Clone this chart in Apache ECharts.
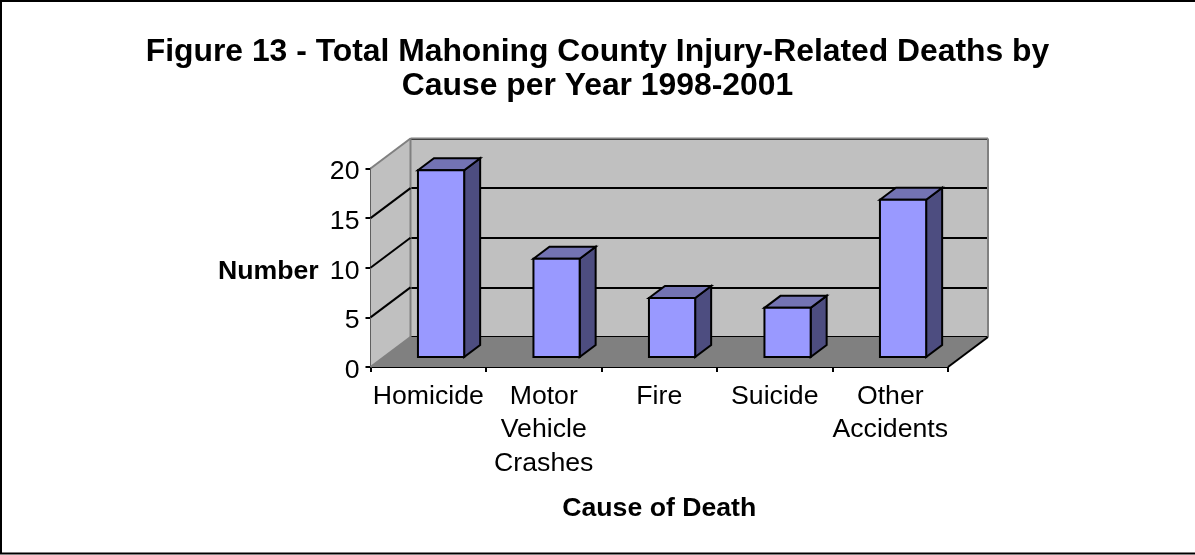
<!DOCTYPE html>
<html><head><meta charset="utf-8">
<style>html,body{margin:0;padding:0;background:#fff}#c{width:1195px;height:555px}</style>
<script src="https://cdn.jsdelivr.net/npm/echarts@6/dist/echarts.min.js"></script>
</head><body><div id="c"></div>
<script>
var categories = ['Homicide', 'Motor\nVehicle\nCrashes', 'Fire', 'Suicide', 'Other\nAccidents'];
var deaths = [19, 10, 6, 5, 16];
var gridTicks = [5, 10, 15, 20];
var titleLines = 'Figure 13 - Total Mahoning County Injury-Related Deaths by\nCause per Year 1998-2001';
var FONT = '"Liberation Sans", Arial, sans-serif';
var DX = 40, DY = -30, BAR_DX = 16, BAR_DY = -12;

function poly(points, fill, stroke, lw, z) {
  return { type: 'polygon', z2: z || 0, shape: { points: points },
    style: { fill: fill, stroke: stroke || 'none', lineWidth: lw || 0 } };
}
function line(a, b, stroke, lw, z) {
  return { type: 'line', z2: z || 1, shape: { x1: a[0], y1: a[1], x2: b[0], y2: b[1] },
    style: { stroke: stroke, lineWidth: lw } };
}
function renderRoom(params, api) {
  var l = api.coord([0, 0]), r = api.coord([categories.length - 1, 0]);
  var band = api.size([1, 0])[0];
  var x0 = l[0] - band / 2, x1 = r[0] + band / 2, y0 = l[1];
  var top = api.coord([0, 20])[1];
  var kids = [
    poly([[x0, y0], [x1, y0], [x1 + DX, y0 + DY], [x0 + DX, y0 + DY]], '#808080'),
    poly([[x0, y0], [x0, top], [x0 + DX, top + DY], [x0 + DX, y0 + DY]], '#c0c0c0'),
    line([x0, y0], [x0 + DX, y0 + DY], '#808080', 2, 2),
    line([x0, top], [x0 + DX, top + DY], '#808080', 2, 2),
    line([x0 + DX, top + DY], [x0 + DX, y0 + DY], '#808080', 2, 2),
    line([x0 + DX, top + DY], [x1 + DX, top + DY], '#808080', 2, 2),
    line([x1 + DX, top + DY], [x1 + DX, y0 + DY], '#808080', 2, 2),
    line([x1, y0], [x1 + DX, y0 + DY], '#000', 2, 2)
  ];
  gridTicks.forEach(function (t) {
    if (t === 20) return;
    var y = api.coord([0, t])[1];
    kids.push(line([x0, y], [x0 + DX, y + DY], '#000', 2, 2));
  });
  return { type: 'group', children: kids };
}
function renderBar(params, api) {
  var p = api.coord([api.value(0), api.value(1)]);
  var b = api.coord([api.value(0), 0]);
  var w = api.size([1, 0])[0] * 0.4;
  var xl = p[0] - w / 2, xr = p[0] + w / 2, yt = p[1], yb = b[1];
  function f(pts, c) {
    return { type: 'polygon', shape: { points: pts }, style: { fill: c, stroke: '#000', lineWidth: 2 } };
  }
  return { type: 'group', children: [
    f([[xr, yt], [xr + BAR_DX, yt + BAR_DY], [xr + BAR_DX, yb + BAR_DY], [xr, yb]], '#4d4d80'),
    f([[xl, yt], [xl + BAR_DX, yt + BAR_DY], [xr + BAR_DX, yt + BAR_DY], [xr, yt]], '#7373b3'),
    f([[xl, yt], [xr, yt], [xr, yb], [xl, yb]], '#9999ff')
  ] };
}
var chart = echarts.init(document.getElementById('c'), null, { renderer: 'canvas' });
chart.setOption({
  animation: false,
  backgroundColor: '#fff',
  textStyle: { fontFamily: FONT },
  title: { text: titleLines, left: 592.5, top: 30, textAlign: 'center',
    textStyle: { fontFamily: FONT, fontSize: 31.85, fontWeight: 'bold', color: '#000', lineHeight: 34 } },
  graphic: [{ type: 'polyline', silent: true, z: -1,
    shape: { points: [[1195, 1], [1, 1], [1, 553.5], [1195, 553.5]] },
    style: { fill: 'none', stroke: '#000', lineWidth: 2 } },
    { type: 'text', left: 218, top: 258, style: { text: 'Number', font: 'bold 26.67px ' + FONT, fill: '#000' } }
  ],
  grid: [
    { left: 370.5, width: 577.5, top: 168.5, height: 198.5, show: false },
    { left: 410.5, width: 577.5, top: 138.5, height: 198.5, show: true, backgroundColor: '#c0c0c0', borderWidth: 0 },
    { left: 383.3, width: 577.5, top: 160.4, height: 196.6, show: false }
  ],
  xAxis: [
    { type: 'category', gridIndex: 0, data: categories, name: 'Cause of Death', nameLocation: 'middle', nameGap: 128,
      nameTextStyle: { fontFamily: FONT, fontSize: 26.67, fontWeight: 'bold', color: '#000' },
      axisLine: { lineStyle: { color: '#000', width: 2 } },
      axisTick: { show: true, alignWithLabel: false, length: 5, lineStyle: { color: '#000', width: 2 } },
      axisLabel: { color: '#000', fontFamily: FONT, fontSize: 26.67, lineHeight: 33.4, margin: 13, interval: 0 } },
    { type: 'category', gridIndex: 1, data: categories, show: false },
    { type: 'category', gridIndex: 2, data: categories, show: false }
  ],
  yAxis: [
    { type: 'value', gridIndex: 0, min: 0, max: 20, interval: 5,
      axisLine: { show: true, lineStyle: { color: '#000', width: 2 } },
      axisTick: { show: true, length: 5, lineStyle: { color: '#000', width: 2 } },
      axisLabel: { color: '#000', fontFamily: FONT, fontSize: 26.67, margin: 11,
        formatter: '{n|{value}}',
        rich: { n: { fontFamily: FONT, fontSize: 26.67, color: '#000', padding: [7, 0, 0, 0] } } },
      splitLine: { show: false } },
    { type: 'value', gridIndex: 1, min: 0, max: 20, interval: 5,
      axisLine: { show: false }, axisTick: { show: false }, axisLabel: { show: false },
      splitLine: { show: true, lineStyle: { color: '#000', width: 2 } } },
    { type: 'value', gridIndex: 2, min: 0, max: 20, show: false }
  ],
  series: [
    { type: 'custom', xAxisIndex: 0, yAxisIndex: 0, renderItem: renderRoom, data: [[0, 0]], clip: false, z: 1, silent: true,
      encode: { x: 0, y: 1 } },
    { type: 'custom', xAxisIndex: 2, yAxisIndex: 2, renderItem: renderBar, clip: false, z: 5, silent: true,
      data: deaths.map(function (v, i) { return [i, v]; }), encode: { x: 0, y: 1 } }
  ]
});
</script></body></html>
